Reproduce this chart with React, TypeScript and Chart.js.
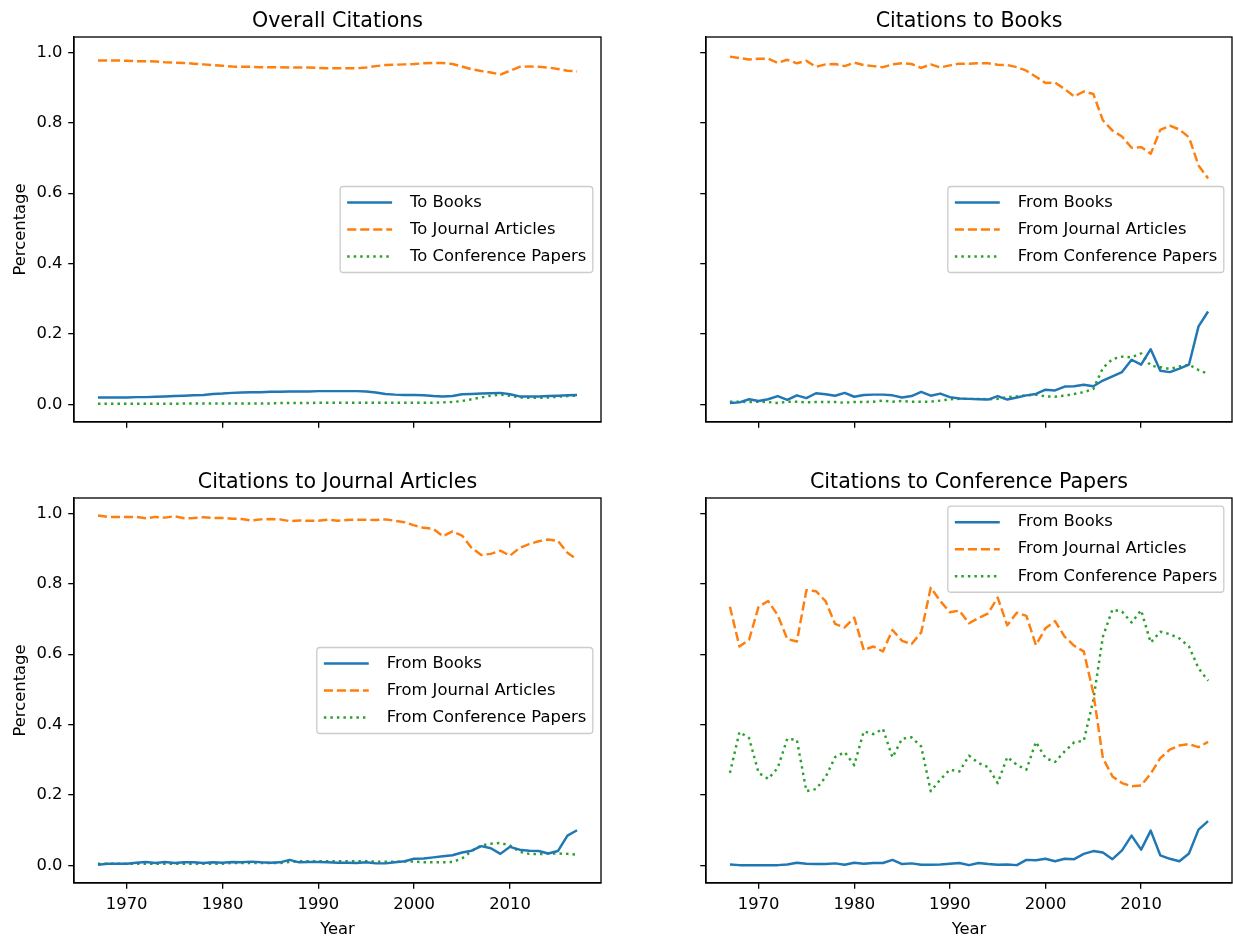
import React, { useEffect, useRef } from "react";
import { Chart, registerables } from "chart.js";

Chart.register(...registerables);

// ---------------- data ----------------
const years = [
  1967, 1968, 1969, 1970, 1971, 1972, 1973, 1974, 1975, 1976, 1977, 1978, 1979,
  1980, 1981, 1982, 1983, 1984, 1985, 1986, 1987, 1988, 1989, 1990, 1991, 1992,
  1993, 1994, 1995, 1996, 1997, 1998, 1999, 2000, 2001, 2002, 2003, 2004, 2005,
  2006, 2007, 2008, 2009, 2010, 2011, 2012, 2013, 2014, 2015, 2016, 2017,
];

const xTickValues = [1970, 1980, 1990, 2000, 2010];
const yTickValues = [0, 0.2, 0.4, 0.6, 0.8, 1.0];

const overallLabels = ["To Books", "To Journal Articles", "To Conference Papers"];
const fromLabels = ["From Books", "From Journal Articles", "From Conference Papers"];

// Overall Citations
const overallBooks = [
  0.020, 0.020, 0.020, 0.020, 0.021, 0.021, 0.022, 0.023, 0.024, 0.025, 0.026, 0.027,
  0.030, 0.031, 0.033, 0.034, 0.035, 0.035, 0.036, 0.036, 0.037, 0.037, 0.037, 0.038,
  0.038, 0.038, 0.038, 0.038, 0.037, 0.034, 0.030, 0.028, 0.027, 0.027, 0.026, 0.024,
  0.023, 0.024, 0.029, 0.030, 0.031, 0.032, 0.033, 0.029, 0.023, 0.023, 0.023, 0.024,
  0.025, 0.026, 0.027,
];
const overallJournal = [
  0.977, 0.977, 0.977, 0.976, 0.975, 0.975, 0.974, 0.972, 0.971, 0.970, 0.968, 0.966,
  0.964, 0.962, 0.960, 0.959, 0.959, 0.958, 0.958, 0.958, 0.957, 0.957, 0.957, 0.956,
  0.955, 0.955, 0.955, 0.955, 0.957, 0.961, 0.964, 0.965, 0.966, 0.967, 0.969, 0.970,
  0.970, 0.967, 0.960, 0.952, 0.947, 0.943, 0.937, 0.948, 0.959, 0.960, 0.959, 0.957,
  0.953, 0.948, 0.946,
];
const overallConf = [
  0.002, 0.002, 0.002, 0.002, 0.002, 0.002, 0.002, 0.002, 0.002, 0.003, 0.003, 0.003,
  0.003, 0.003, 0.003, 0.003, 0.003, 0.003, 0.003, 0.004, 0.004, 0.004, 0.004, 0.005,
  0.005, 0.005, 0.005, 0.005, 0.005, 0.005, 0.005, 0.005, 0.005, 0.005, 0.005, 0.005,
  0.006, 0.007, 0.010, 0.015, 0.020, 0.025, 0.028, 0.025, 0.020, 0.019, 0.019, 0.020,
  0.022, 0.024, 0.025,
];

// Citations to Books
const booksFromBooks = [
  0.004, 0.006, 0.015, 0.010, 0.015, 0.024, 0.013, 0.026, 0.018, 0.032, 0.029, 0.025,
  0.033, 0.022, 0.027, 0.028, 0.028, 0.026, 0.020, 0.024, 0.036, 0.025, 0.031, 0.021,
  0.017, 0.016, 0.015, 0.014, 0.024, 0.014, 0.020, 0.026, 0.030, 0.042, 0.040, 0.051,
  0.052, 0.056, 0.052, 0.068, 0.080, 0.092, 0.127, 0.113, 0.157, 0.096, 0.092, 0.102,
  0.113, 0.222, 0.264,
];
const booksFromJournal = [
  0.988, 0.984, 0.980, 0.982, 0.982, 0.970, 0.979, 0.969, 0.976, 0.959, 0.966, 0.967,
  0.961, 0.971, 0.964, 0.961, 0.958, 0.966, 0.969, 0.967, 0.956, 0.966, 0.957, 0.963,
  0.968, 0.968, 0.969, 0.969, 0.965, 0.964, 0.958, 0.948, 0.931, 0.913, 0.914, 0.896,
  0.875, 0.889, 0.882, 0.807, 0.778, 0.761, 0.729, 0.731, 0.712, 0.780, 0.792, 0.781,
  0.759, 0.679, 0.642,
];
const booksFromConf = [
  0.008, 0.008, 0.007, 0.008, 0.007, 0.004, 0.008, 0.008, 0.006, 0.007, 0.007, 0.007,
  0.005, 0.007, 0.007, 0.008, 0.011, 0.008, 0.010, 0.008, 0.008, 0.008, 0.011, 0.015,
  0.016, 0.016, 0.016, 0.015, 0.016, 0.021, 0.023, 0.026, 0.028, 0.023, 0.022, 0.025,
  0.030, 0.035, 0.044, 0.104, 0.129, 0.136, 0.134, 0.145, 0.110, 0.106, 0.101, 0.108,
  0.113, 0.098, 0.087,
];

// Citations to Journal Articles
const journalFromBooks = [
  0.002, 0.005, 0.005, 0.005, 0.008, 0.010, 0.007, 0.010, 0.007, 0.009, 0.009, 0.007,
  0.009, 0.008, 0.010, 0.009, 0.011, 0.009, 0.008, 0.009, 0.016, 0.009, 0.010, 0.010,
  0.009, 0.008, 0.008, 0.007, 0.009, 0.006, 0.006, 0.009, 0.012, 0.019, 0.020, 0.023,
  0.026, 0.029, 0.037, 0.042, 0.055, 0.049, 0.033, 0.053, 0.045, 0.042, 0.041, 0.034,
  0.041, 0.085, 0.100,
];
const journalFromJournal = [
  0.994, 0.990, 0.990, 0.990, 0.990, 0.986, 0.990, 0.988, 0.992, 0.986, 0.987, 0.989,
  0.987, 0.987, 0.985, 0.984, 0.980, 0.983, 0.984, 0.983, 0.978, 0.980, 0.979, 0.979,
  0.982, 0.979, 0.981, 0.982, 0.982, 0.981, 0.983, 0.979, 0.975, 0.966, 0.959, 0.956,
  0.935, 0.949, 0.937, 0.902, 0.882, 0.885, 0.894, 0.880, 0.902, 0.913, 0.921, 0.926,
  0.922, 0.888, 0.869,
];
const journalFromConf = [
  0.005, 0.005, 0.005, 0.005, 0.005, 0.005, 0.005, 0.005, 0.005, 0.005, 0.005, 0.005,
  0.005, 0.005, 0.007, 0.007, 0.007, 0.007, 0.007, 0.007, 0.010, 0.012, 0.012, 0.012,
  0.012, 0.012, 0.012, 0.012, 0.012, 0.011, 0.011, 0.011, 0.011, 0.011, 0.009, 0.009,
  0.009, 0.010, 0.020, 0.041, 0.057, 0.062, 0.064, 0.057, 0.039, 0.033, 0.032, 0.034,
  0.034, 0.033, 0.031,
];

// Citations to Conference Papers
const confFromBooks = [
  0.003, 0.001, 0.001, 0.001, 0.001, 0.001, 0.003, 0.008, 0.005, 0.004, 0.004, 0.006,
  0.002, 0.008, 0.005, 0.007, 0.007, 0.016, 0.004, 0.006, 0.002, 0.002, 0.003, 0.005,
  0.007, 0.001, 0.007, 0.004, 0.002, 0.003, 0.001, 0.016, 0.015, 0.019, 0.012, 0.019,
  0.018, 0.033, 0.041, 0.037, 0.018, 0.043, 0.085, 0.045, 0.099, 0.029, 0.019, 0.012,
  0.034, 0.102, 0.126,
];
const confFromJournal = [
  0.735, 0.622, 0.641, 0.735, 0.751, 0.711, 0.643, 0.636, 0.782, 0.779, 0.751, 0.686,
  0.676, 0.704, 0.612, 0.622, 0.608, 0.669, 0.638, 0.629, 0.662, 0.789, 0.751, 0.719,
  0.724, 0.688, 0.703, 0.716, 0.761, 0.682, 0.718, 0.709, 0.626, 0.674, 0.694, 0.650,
  0.624, 0.608, 0.490, 0.305, 0.253, 0.234, 0.225, 0.227, 0.261, 0.305, 0.329, 0.341,
  0.345, 0.336, 0.351,
];
const confFromConf = [
  0.263, 0.379, 0.362, 0.263, 0.246, 0.277, 0.360, 0.357, 0.211, 0.217, 0.251, 0.308,
  0.322, 0.285, 0.381, 0.373, 0.388, 0.307, 0.360, 0.364, 0.338, 0.211, 0.244, 0.272,
  0.267, 0.312, 0.291, 0.279, 0.234, 0.308, 0.286, 0.272, 0.351, 0.305, 0.294, 0.324,
  0.350, 0.354, 0.470, 0.650, 0.727, 0.721, 0.690, 0.725, 0.633, 0.664, 0.657, 0.645,
  0.622, 0.560, 0.525,
];

// ---------------- style ----------------
const FONT = "DejaVu Sans";
const PT = 118 / 72;
const FS = 10 * PT;
const TITLE_FS = 20.6;
const LW = 1.5 * PT;
const SPINE = 0.8 * PT;
const TICK_LEN = 3.5 * PT;
const TICK_PAD = 3.5 * PT;
const COLORS = ["#1f77b4", "#ff7f0e", "#2ca02c"];
const DASHES: number[][] = [[], [3.7 * LW, 1.6 * LW], [1 * LW, 1.65 * LW]];
const Y_MIN = -0.0497;
const Y_MAX = 1.0437;
const X_MIN = 1964.5;
const X_MAX = 2019.5;

type Spec = {
  left: number;
  top: number;
  width: number;
  height: number;
  area: { l: number; t: number; r: number; b: number };
  title: string;
  labels: string[];
  series: number[][];
  showX: boolean;
  showY: boolean;
  legendLoc: "center right" | "upper right";
};

const specs: Spec[] = [
  {
    left: 0, top: 0, width: 650, height: 460,
    area: { l: 74, t: 37, r: 601, b: 422 },
    title: "Overall Citations", labels: overallLabels,
    series: [overallBooks, overallJournal, overallConf],
    showX: false, showY: true, legendLoc: "center right",
  },
  {
    left: 650, top: 0, width: 583, height: 460,
    area: { l: 56, t: 37, r: 582, b: 422 },
    title: "Citations to Books", labels: fromLabels,
    series: [booksFromBooks, booksFromJournal, booksFromConf],
    showX: false, showY: false, legendLoc: "center right",
  },
  {
    left: 0, top: 460, width: 650, height: 476,
    area: { l: 74, t: 38, r: 601, b: 423 },
    title: "Citations to Journal Articles", labels: fromLabels,
    series: [journalFromBooks, journalFromJournal, journalFromConf],
    showX: true, showY: true, legendLoc: "center right",
  },
  {
    left: 650, top: 460, width: 583, height: 476,
    area: { l: 56, t: 38, r: 582, b: 423 },
    title: "Citations to Conference Papers", labels: fromLabels,
    series: [confFromBooks, confFromJournal, confFromConf],
    showX: true, showY: false, legendLoc: "upper right",
  },
];

function decorPlugin(spec: Spec) {
  return {
    id: "decor",
    afterDatasetsDraw(chart: any) {
      const ctx: CanvasRenderingContext2D = chart.ctx;
      const a = chart.chartArea;
      ctx.save();
      // spines
      ctx.strokeStyle = "#000";
      ctx.lineWidth = SPINE;
      ctx.setLineDash([]);
      ctx.strokeRect(a.left, a.top, a.right - a.left, a.bottom - a.top);

      // title
      ctx.fillStyle = "#000";
      ctx.font = `${TITLE_FS}px "${FONT}"`;
      ctx.textAlign = "center";
      ctx.textBaseline = "alphabetic";
      ctx.fillText(spec.title, (a.left + a.right) / 2, a.top - 6 * PT);

      // axis labels
      ctx.font = `${FS}px "${FONT}"`;
      if (spec.showY) {
        const w = ctx.measureText("0.0").width;
        const xr = a.left - TICK_LEN - TICK_PAD - w - 4 * PT;
        const cx = xr - 0.58 * FS;
        ctx.save();
        ctx.translate(cx, (a.top + a.bottom) / 2);
        ctx.rotate(-Math.PI / 2);
        ctx.textAlign = "center";
        ctx.textBaseline = "middle";
        ctx.fillText("Percentage", 0, 0);
        ctx.restore();
      }
      if (spec.showX) {
        const yTop = a.bottom + TICK_LEN + TICK_PAD + 1.16 * FS + 4 * PT;
        ctx.textAlign = "center";
        ctx.textBaseline = "middle";
        ctx.fillText("Year", (a.left + a.right) / 2, yTop + 0.58 * FS);
      }

      // legend
      const fs = FS;
      ctx.font = `${fs}px "${FONT}"`;
      const tw = Math.max(...spec.labels.map((l) => ctx.measureText(l).width));
      const rowH = 1.15 * fs;
      const hStart = 0.43 * fs;
      const hLen = 2.74 * fs;
      const txtOff = 4.27 * fs;
      const w = txtOff + tw + 0.4 * fs;
      const h = 0.8 * fs + 3 * rowH + 2 * 0.5 * fs;
      const x0 = a.right - 0.5 * fs - w;
      const y0 =
        spec.legendLoc === "upper right" ? a.top + 0.5 * fs : (a.top + a.bottom) / 2 - h / 2;
      const r = 0.2 * fs;
      ctx.beginPath();
      ctx.moveTo(x0 + r, y0);
      ctx.lineTo(x0 + w - r, y0);
      ctx.arcTo(x0 + w, y0, x0 + w, y0 + r, r);
      ctx.lineTo(x0 + w, y0 + h - r);
      ctx.arcTo(x0 + w, y0 + h, x0 + w - r, y0 + h, r);
      ctx.lineTo(x0 + r, y0 + h);
      ctx.arcTo(x0, y0 + h, x0, y0 + h - r, r);
      ctx.lineTo(x0, y0 + r);
      ctx.arcTo(x0, y0, x0 + r, y0, r);
      ctx.closePath();
      ctx.fillStyle = "rgba(255,255,255,0.8)";
      ctx.fill();
      ctx.strokeStyle = "#cccccc";
      ctx.lineWidth = SPINE;
      ctx.stroke();

      spec.labels.forEach((lab, i) => {
        const cy = y0 + 0.4 * fs + i * (rowH + 0.5 * fs) + rowH / 2;
        ctx.beginPath();
        ctx.setLineDash(DASHES[i]);
        ctx.lineCap = "butt";
        ctx.strokeStyle = COLORS[i];
        ctx.lineWidth = LW;
        ctx.moveTo(x0 + hStart, cy);
        ctx.lineTo(x0 + hStart + hLen, cy);
        ctx.stroke();
        ctx.setLineDash([]);
        ctx.fillStyle = "#000";
        ctx.textAlign = "left";
        ctx.textBaseline = "middle";
        ctx.fillText(lab, x0 + txtOff, cy);
      });
      ctx.restore();
    },
  };
}

function Panel({ spec }: { spec: Spec }) {
  const ref = useRef<HTMLCanvasElement>(null);
  useEffect(() => {
    const font = { family: FONT, size: FS };
    const gridOpts = {
      display: true,
      drawOnChartArea: false,
      drawTicks: true,
      tickLength: TICK_LEN,
      tickWidth: SPINE,
      tickColor: "#000",
      color: "#000",
      lineWidth: SPINE,
    };
    const chart = new Chart(ref.current as HTMLCanvasElement, {
      type: "line",
      data: {
        datasets: spec.series.map((vals, i) => ({
          label: spec.labels[i],
          data: years.map((yr, j) => ({ x: yr, y: vals[j] })),
          borderColor: COLORS[i],
          backgroundColor: COLORS[i],
          borderWidth: LW,
          borderDash: DASHES[i],
          borderCapStyle: "butt",
          borderJoinStyle: "round",
          pointRadius: 0,
          tension: 0,
          fill: false,
        })),
      },
      options: {
        responsive: false,
        animation: false,
        devicePixelRatio: 1,
        events: [],
        layout: {
          padding: { left: 0, top: spec.area.t, right: spec.width - spec.area.r, bottom: 0 },
        },
        plugins: {
          legend: { display: false },
          title: { display: false },
          tooltip: { enabled: false },
        },
        scales: {
          x: {
            type: "linear",
            min: X_MIN,
            max: X_MAX,
            afterBuildTicks: (s: any) => {
              s.ticks = xTickValues.map((v) => ({ value: v }));
            },
            afterFit: (s: any) => {
              s.height = spec.height - spec.area.b;
            },
            grid: gridOpts,
            border: { display: true, color: "#000", width: SPINE },
            ticks: {
              display: spec.showX,
              font,
              color: "#000",
              padding: TICK_PAD,
              maxRotation: 0,
              autoSkip: false,
              callback: (v: any) => String(v),
            },
          },
          y: {
            type: "linear",
            min: Y_MIN,
            max: Y_MAX,
            afterBuildTicks: (s: any) => {
              s.ticks = yTickValues.map((v) => ({ value: v }));
            },
            afterFit: (s: any) => {
              s.width = spec.area.l;
            },
            grid: gridOpts,
            border: { display: true, color: "#000", width: SPINE },
            ticks: {
              display: spec.showY,
              font,
              color: "#000",
              padding: TICK_PAD,
              autoSkip: false,
              callback: (v: any) => Number(v).toFixed(1),
            },
          },
        },
      } as any,
      plugins: [decorPlugin(spec)],
    } as any);
    return () => chart.destroy();
  }, [spec]);
  return (
    <canvas
      ref={ref}
      width={spec.width}
      height={spec.height}
      style={{
        position: "absolute",
        left: spec.left,
        top: spec.top,
        width: spec.width,
        height: spec.height,
      }}
    />
  );
}

export default function App() {
  return (
    <div
      style={{
        position: "absolute",
        left: 0,
        top: 0,
        width: 1233,
        height: 936,
        background: "#fff",
      }}
    >
      {specs.map((s, i) => (
        <Panel key={i} spec={s} />
      ))}
    </div>
  );
}
